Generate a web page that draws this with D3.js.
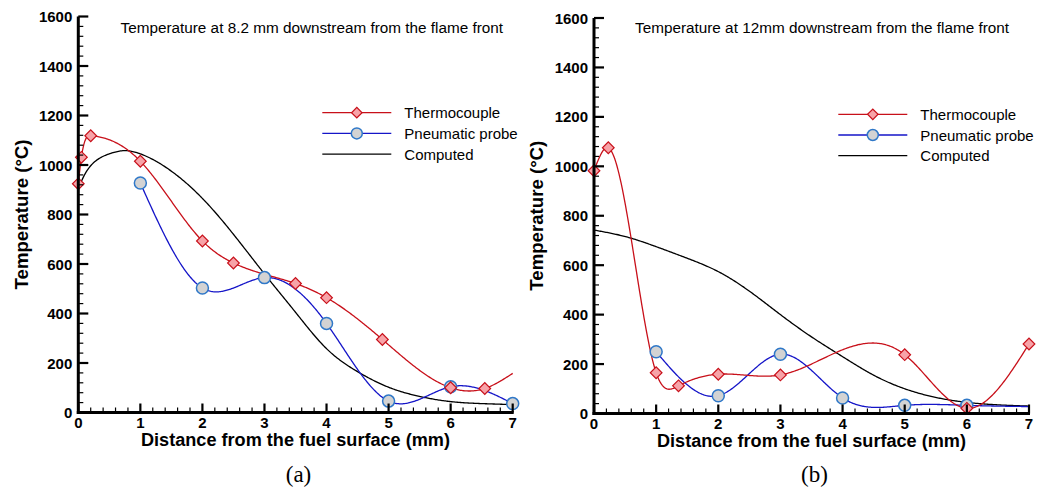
<!DOCTYPE html>
<html>
<head>
<meta charset="utf-8">
<script src="https://cdn.jsdelivr.net/npm/d3@7"></script>
<style>
  html, body { margin: 0; padding: 0; background: #fff; }
  svg { display: block; }
  text { font-family: "Liberation Sans", Arial, Helvetica, sans-serif; }
</style>
</head>
<body>
<svg id="chart" width="1038" height="487"></svg>
<script>
// ---- Panel (a): 8.2 mm downstream from the flame front ----
const tcDistA = [0, 0.05, 0.2, 1, 2, 2.5, 3.5, 4, 4.9, 6, 6.55];
const tcTempA = [924, 1031, 1118, 1015, 693, 604, 521, 464, 295, 100, 97];
const tcTailA = [[7, 158]];          // curve continues to the axis end, no marker
const ppDistA = [1, 2, 3, 4, 5, 6, 7];
const ppTempA = [927, 503, 545, 360, 46, 104, 36];
const ppTailA = [];
const cmpDistA = [0, 0.1, 0.25, 0.5, 0.75, 1, 1.5, 2, 2.5, 3, 3.5, 4, 4.5, 5, 5.5, 6, 6.5, 7];
const cmpTempA = [905, 960, 1010, 1045, 1058, 1045, 975, 865, 720, 560, 405, 258, 165, 102, 65, 44, 36, 32];

// ---- Panel (b): 12 mm downstream from the flame front ----
const tcDistB = [0, 0.23, 1, 1.36, 2, 3, 5, 6, 7];
const tcTempB = [982, 1075, 165, 112, 159, 156, 238, 21, 281];
const tcTailB = [];
const ppDistB = [1, 2, 3, 4, 5, 6];
const ppTempB = [250, 72, 240, 63, 33, 33];
const ppTailB = [[7, 28]];
const cmpDistB = [0, 0.5, 1, 1.5, 2, 2.5, 3, 3.5, 4, 4.5, 5, 5.5, 6, 6.5, 7];
const cmpTempB = [742, 716, 675, 628, 574, 495, 400, 310, 230, 155, 100, 65, 45, 35, 30];

// ---- Axis ticks and labels ----
const xTicks = [0, 1, 2, 3, 4, 5, 6, 7];
const yTicks = [0, 200, 400, 600, 800, 1000, 1200, 1400, 1600];
const legendLabels = ["Thermocouple", "Pneumatic probe", "Computed"];
const xTitle = "Distance from the fuel surface (mm)";
const yTitle = "Temperature (\u00B0C)";

const RED = "#c8101a", PINK = "#f7a3a8";
const BLUE = "#1515c8", CIRCLE_EDGE = "#2f78c8", GREY = "#d3d3d3";

const svg = d3.select("#chart");

// Natural cubic spline y(x) through the given knots
function naturalSpline(xs, ys) {
  const n = xs.length;
  if (n < 3) return x => {
    const t = (x - xs[0]) / (xs[1] - xs[0]);
    return ys[0] + t * (ys[1] - ys[0]);
  };
  const h = [], al = [], l = [1], mu = [0], z = [0];
  for (let i = 0; i < n - 1; i++) h.push(xs[i + 1] - xs[i]);
  for (let i = 1; i < n - 1; i++)
    al[i] = 3 / h[i] * (ys[i + 1] - ys[i]) - 3 / h[i - 1] * (ys[i] - ys[i - 1]);
  for (let i = 1; i < n - 1; i++) {
    l[i] = 2 * (xs[i + 1] - xs[i - 1]) - h[i - 1] * mu[i - 1];
    mu[i] = h[i] / l[i];
    z[i] = (al[i] - h[i - 1] * z[i - 1]) / l[i];
  }
  const c = new Array(n).fill(0), b = [], d = [];
  for (let j = n - 2; j >= 0; j--) {
    c[j] = j === 0 ? 0 : z[j] - mu[j] * c[j + 1];
    b[j] = (ys[j + 1] - ys[j]) / h[j] - h[j] * (c[j + 1] + 2 * c[j]) / 3;
    d[j] = (c[j + 1] - c[j]) / (3 * h[j]);
  }
  return x => {
    let i = 0;
    while (i < n - 2 && x > xs[i + 1]) i++;
    const dx = x - xs[i];
    return ys[i] + b[i] * dx + c[i] * dx * dx + d[i] * dx * dx * dx;
  };
}

function sampleSpline(xs, ys) {
  const f = naturalSpline(xs, ys);
  const x0 = xs[0], x1 = xs[xs.length - 1];
  const N = 400;
  return d3.range(N + 1).map(i => {
    const x = x0 + (x1 - x0) * i / N;
    return [x, f(x)];
  });
}

function drawPanel(cfg) {
  const x = d3.scaleLinear().domain([0, 7]).range(cfg.xRange);
  const y = d3.scaleLinear().domain([0, 1600]).range(cfg.yRange);
  const g = svg.append("g");
  const line = d3.line().x(d => x(d[0])).y(d => y(d[1]));

  // curves
  const tcPts = cfg.tcX.map((v, i) => [v, cfg.tcY[i]]).concat(cfg.tcTail);
  const ppPts = cfg.ppX.map((v, i) => [v, cfg.ppY[i]]).concat(cfg.ppTail);

  g.append("path").attr("d", line(sampleSpline(cfg.cmpX, cfg.cmpY)))
    .attr("fill", "none").attr("stroke", "#000").attr("stroke-width", 1.3);
  g.append("path").attr("d", line(sampleSpline(ppPts.map(d => d[0]), ppPts.map(d => d[1]))))
    .attr("fill", "none").attr("stroke", BLUE).attr("stroke-width", 1.3);
  g.append("path").attr("d", line(sampleSpline(tcPts.map(d => d[0]), tcPts.map(d => d[1]))))
    .attr("fill", "none").attr("stroke", RED).attr("stroke-width", 1.3);

  // markers
  g.selectAll(".pp").data(cfg.ppX.map((v, i) => [v, cfg.ppY[i]])).enter()
    .append("circle").attr("cx", d => x(d[0])).attr("cy", d => y(d[1])).attr("r", 6)
    .attr("fill", GREY).attr("stroke", CIRCLE_EDGE).attr("stroke-width", 1.5);
  const diamond = d3.symbol().type(d3.symbolSquare).size(68);
  g.selectAll(".tc").data(cfg.tcX.map((v, i) => [v, cfg.tcY[i]])).enter()
    .append("path").attr("d", diamond)
    .attr("transform", d => `translate(${x(d[0])},${y(d[1])}) rotate(45)`)
    .attr("fill", PINK).attr("stroke", RED).attr("stroke-width", 1.2);

  // axes with inward major/minor ticks
  const x0 = cfg.xRange[0], yb = cfg.yRange[0];
  const ax = g.append("g").attr("stroke", "#000");
  d3.range(0, 1601, 40).forEach(v => {
    const major = v % 200 === 0;
    ax.append("line").attr("x1", x0).attr("x2", x0 + (major ? 10 : 5))
      .attr("y1", y(v)).attr("y2", y(v)).attr("stroke-width", major ? 2.2 : 1.2);
  });
  d3.range(0, 7.001, 0.2).forEach(v => {
    const major = Math.abs(v - Math.round(v)) < 1e-6;
    ax.append("line").attr("x1", x(v)).attr("x2", x(v))
      .attr("y1", yb).attr("y2", yb - (major ? 9 : 5)).attr("stroke-width", major ? 2.2 : 1.2);
  });
  ax.append("line").attr("x1", x0).attr("x2", x0).attr("y1", yb + 1.5).attr("y2", y(1600))
    .attr("stroke-width", 3);
  ax.append("line").attr("x1", x0 - 1.5).attr("x2", x(7) + 1).attr("y1", yb).attr("y2", yb)
    .attr("stroke-width", 3);

  g.selectAll(".yt").data(yTicks).enter().append("text")
    .attr("x", x0 - 6).attr("y", d => y(d) + 5.5).attr("text-anchor", "end")
    .attr("font-size", 15).attr("font-weight", "bold").text(d => d);
  g.selectAll(".xt").data(xTicks).enter().append("text")
    .attr("x", d => x(d)).attr("y", yb + 15).attr("text-anchor", "middle")
    .attr("font-size", 15).attr("font-weight", "bold").text(d => d);

  g.append("text").attr("x", (x0 + x(7)) / 2).attr("y", yb + 33).attr("text-anchor", "middle")
    .attr("font-size", 18).attr("font-weight", "bold")
    .attr("textLength", 309).attr("lengthAdjust", "spacingAndGlyphs").text(xTitle);
  g.append("text").attr("transform", `translate(${cfg.yTitleX},${(y(0) + y(1600)) / 2}) rotate(-90)`)
    .attr("text-anchor", "middle").attr("font-size", 17.5).attr("font-weight", "bold")
    .attr("textLength", 150).attr("lengthAdjust", "spacingAndGlyphs").text(yTitle);

  g.append("text").attr("x", cfg.titleX).attr("y", 33).attr("font-size", 15.3).text(cfg.title);

  // legend
  const lg = g.append("g");
  const rows = [0, 1, 2].map(i => cfg.legY + i * 20.7);
  const legStroke = [RED, BLUE, "#000"];
  rows.forEach((ry, i) => {
    lg.append("line").attr("x1", cfg.legX).attr("x2", cfg.legX + 69).attr("y1", ry).attr("y2", ry)
      .attr("stroke", legStroke[i]).attr("stroke-width", 1.3);
  });
  lg.append("path").attr("d", d3.symbol().type(d3.symbolSquare).size(55))
    .attr("transform", `translate(${cfg.legX + 34.5},${rows[0]}) rotate(45)`)
    .attr("fill", PINK).attr("stroke", RED).attr("stroke-width", 1.2);
  lg.append("circle").attr("cx", cfg.legX + 34.5).attr("cy", rows[1]).attr("r", 5.5)
    .attr("fill", GREY).attr("stroke", CIRCLE_EDGE).attr("stroke-width", 1.5);
  lg.selectAll(".lt").data(legendLabels).enter().append("text")
    .attr("x", cfg.legX + 82).attr("y", (d, i) => rows[i] + 5.5).attr("font-size", 15).text(d => d);

  // panel caption
  g.append("text").attr("x", (x0 + x(7)) / 2 + 3).attr("y", 482).attr("text-anchor", "middle")
    .style("font-family", "'Liberation Serif', 'Times New Roman', serif")
    .attr("font-size", 23).text(cfg.caption);
}

drawPanel({
  xRange: [78.3, 512.7], yRange: [412.5, 16.5],
  tcX: tcDistA, tcY: tcTempA, tcTail: tcTailA,
  ppX: ppDistA, ppY: ppTempA, ppTail: ppTailA,
  cmpX: cmpDistA, cmpY: cmpTempA,
  title: "Temperature at 8.2 mm downstream from the flame front", titleX: 120.5,
  legX: 322.3, legY: 112.7, yTitleX: 28, caption: "(a)"
});

drawPanel({
  xRange: [594, 1029], yRange: [413.5, 18],
  tcX: tcDistB, tcY: tcTempB, tcTail: tcTailB,
  ppX: ppDistB, ppY: ppTempB, ppTail: ppTailB,
  cmpX: cmpDistB, cmpY: cmpTempB,
  title: "Temperature at 12mm downstream from the flame front", titleX: 635,
  legX: 838.3, legY: 114.3, yTitleX: 543, caption: "(b)"
});
</script>
</body>
</html>
